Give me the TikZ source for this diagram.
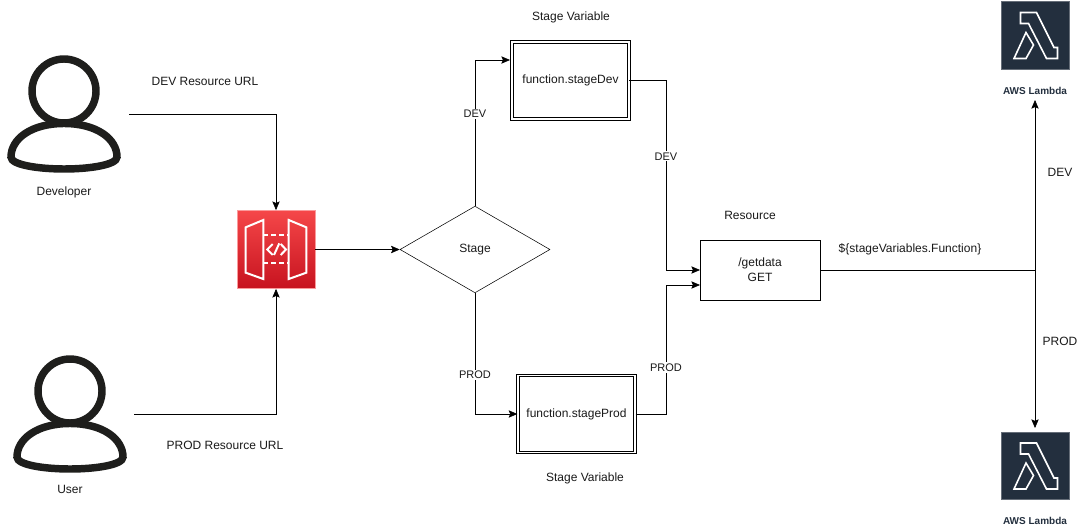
\documentclass[tikz,border=0pt]{standalone}
\usepackage{fontspec}
\setmainfont{Liberation Sans}
\usetikzlibrary{arrows.meta,shapes.geometric}
\definecolor{inkline}{HTML}{1E1E1C}
\definecolor{apitop}{HTML}{F54749}
\definecolor{apibottom}{HTML}{C7131F}
\definecolor{lambdafill}{HTML}{232F3E}
\tikzset{
  >={Stealth[length=6.5pt,width=5.5pt,inset=1.2pt]},
  every node/.style={font=\fontsize{9}{11}\selectfont,align=center,text=black!90},
  box/.style={draw,minimum width=90pt,minimum height=45pt,inner sep=0pt},
  stagebox/.style={draw,double,double distance=1.1pt,line width=.75pt,inner sep=0pt},
  stagediamond/.style={draw,diamond,aspect=1.72,minimum width=112.5pt,minimum height=65pt,inner sep=0pt},
  gatewaybox/.style={draw=apitop!55!white,line width=.6pt,top color=apitop,bottom color=apibottom,minimum size=58.5pt,inner sep=0pt},
  lambdabox/.style={draw=lambdafill!70!white,line width=.6pt,fill=lambdafill,minimum size=50.5pt,inner sep=0pt},
  linelabel/.style={fill=white,inner sep=1pt,font=\fontsize{8.25}{10}\selectfont},
  boldlabel/.style={font=\fontsize{7.5}{9}\selectfont\bfseries,text=lambdafill},
  iconline/.style={draw=white,line width=1.5pt,line join=miter},
  person/.pic={
    \draw[inkline,line width=5.6pt] (0,-35) circle (32);
    \draw[inkline,line width=5.6pt] (0,-2.5) .. controls (-33,-2.5) and (-53,13) .. (-53,31)
      .. controls (-53,39) and (-25,43) .. (0,43) .. controls (25,43) and (53,39) .. (53,31)
      .. controls (53,13) and (33,-2.5) .. (0,-2.5) -- cycle;
  },
  lambdamark/.pic={
    \draw[iconline,line width=1.2pt] (-15,-23) -- (1,-23) -- (18.5,12) -- (22,12) -- (22,23) -- (11,23) -- (-7,-12) -- (-15,-12) -- cycle;
    \draw[iconline,line width=1.2pt] (-9.5,-3) -- (-2,9.5) -- (-9.5,23) -- (-21.5,23) -- cycle;
  },
  gatewaymark/.pic={
    \draw[iconline] (-30.3,-22.2) -- (-12.7,-29.5) -- (-12.7,29.5) -- (-30.3,23.2) -- cycle;
    \draw[iconline] (30.3,-22.2) -- (12.7,-29.5) -- (12.7,29.5) -- (30.3,23.2) -- cycle;
    \draw[iconline,dashed,dash pattern=on 3.5pt off 2.5pt] (-12.7,-14.5) -- (12.7,-14.5);
    \draw[iconline,dashed,dash pattern=on 3.5pt off 2.5pt] (-12.7,13.8) -- (12.7,13.8);
    \draw[iconline] (-3.3,-5.5) -- (-8.7,0) -- (-3.3,5.5);
    \draw[iconline] (4.7,-5.5) -- (10,0) -- (4.7,5.5);
    \draw[iconline] (3.3,-6.2) -- (-2,5.5);
  },
}
\begin{document}
\begin{tikzpicture}[x=.75pt,y=-.75pt]
  \useasboundingbox (0,0) rectangle (1081,531);

  % people
  \pic at (64,126) {person};
  \pic at (70,426) {person};
  \node (developer) at (64,192) {Developer};
  \node (user) at (70,489) {User};
  \node (devurl) at (205,81) {DEV Resource URL};
  \node (produrl) at (225,445) {PROD Resource URL};
  \coordinate (devstart) at (129,114);
  \coordinate (prodstart) at (134,414);

  % api gateway
  \node[gatewaybox] (gateway) at (276,249.5) {};
  \pic at (gateway) {gatewaymark};

  \node[stagediamond] (stage) at (475,249.5) {Stage};

  % stage variables
  \node[stagebox,minimum width=87.5pt,minimum height=57.9pt] (stagedev) at (570.5,80.4) {function.stageDev};
  \node[stagebox,minimum width=88pt,minimum height=57.5pt] (stageprod) at (576.5,414) {function.stageProd};
  \node (devvar) at (571,17.5) {Stage Variable};
  \node (prodvar) at (585,478.5) {Stage Variable};
  \coordinate (stagedevin) at (510,60);

  % resource
  \node[box] (resource) at (760,270) {/getdata\\GET};
  \node (resourcelabel) at (750,215) {Resource};
  \node (integration) at (910,249) {\$\{stageVariables.Function\}};
  \coordinate (split) at (1035,270);

  % lambdas
  \node[lambdabox] (lambdadev) at (1035.5,35.5) {};
  \node[lambdabox] (lambdaprod) at (1035.5,466) {};
  \pic at (lambdadev) {lambdamark};
  \pic at (lambdaprod) {lambdamark};
  \node[boldlabel] (lambdadevlabel) at (1035,91) {AWS Lambda};
  \node[boldlabel] (lambdaprodlabel) at (1035,521) {AWS Lambda};
  \coordinate (lambdadevin) at (1035,100);
  \coordinate (lambdaprodin) at (1035,428);

  \draw[->] (devstart) -| (gateway.north);
  \draw[->] (prodstart) -| (gateway.south);
  \draw[->] (gateway) -- (stage);
  \draw[->] (stage.north) |- node[linelabel,pos=.315] {DEV} (stagedevin);
  \draw[->] (stage.south) |- node[linelabel,pos=.339] {PROD} (stageprod.west);
  \draw[->] (stagedev.east) -- (666,80.4) |- node[linelabel,pos=.2] {DEV} (700,270);
  \draw[->] (stageprod.east) -- (666,414) |- node[linelabel,pos=.18] {PROD} (700,285);
  \draw (resource.east) -- (split);
  \draw[->] (split) -- (lambdadevin);
  \draw[->] (split) -- (lambdaprodin);
  \node (devroute) at (1060,172) {DEV};
  \node (prodroute) at (1060,341) {PROD};
\end{tikzpicture}
\end{document}
